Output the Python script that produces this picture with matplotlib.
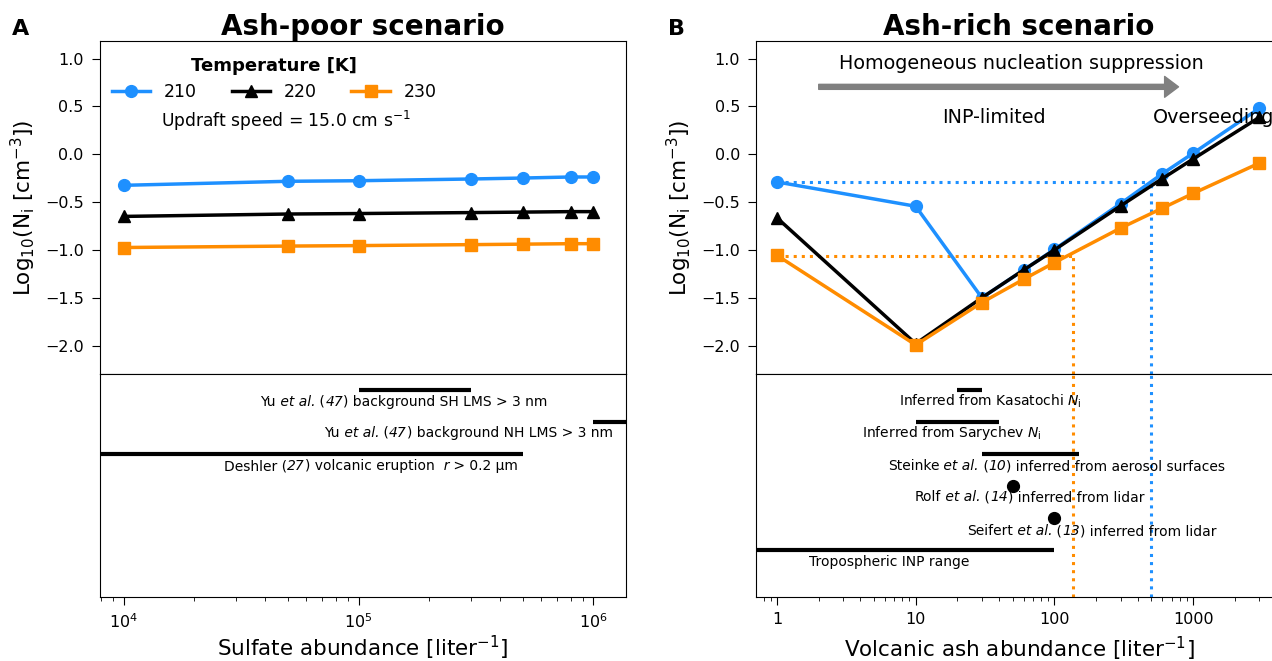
import numpy as np
import matplotlib
matplotlib.use("Agg")
import matplotlib.pyplot as plt
from matplotlib.ticker import FixedLocator, FixedFormatter, LogLocator, NullFormatter

# ---------------- data ----------------
temperatures = ["210", "220", "230"]
colors = ["#1E90FF", "black", "#FF8C00"]
markers = ["o", "^", "s"]

sulfate = [1e4, 5e4, 1e5, 3e5, 5e5, 8e5, 1e6]
poor_210 = [-0.325, -0.283, -0.277, -0.259, -0.249, -0.238, -0.238]
poor_220 = [-0.65, -0.625, -0.62, -0.61, -0.605, -0.60, -0.60]
poor_230 = [-0.975, -0.96, -0.955, -0.945, -0.94, -0.935, -0.935]

ash = [1, 10, 30, 60, 100, 300, 600, 1000, 3000]
rich_210 = [-0.29, -0.544, -1.50, -1.21, -0.995, -0.516, -0.204, 0.01, 0.48]
rich_220 = [-0.665, -1.98, -1.50, -1.21, -1.0, -0.54, -0.255, -0.05, 0.385]
rich_230 = [-1.057, -1.993, -1.55, -1.307, -1.133, -0.772, -0.564, -0.41, -0.093]

# threshold markers (ash-rich)
thr_210_y, thr_210_x = -0.29, 500
thr_230_y, thr_230_x = -1.06, 137

N, I = "normal", "italic"
# observational ranges, ash-poor
obsA_labels = [[("Yu", N), (" et al.", I), (" (", N), ("47", I), (") background SH LMS > 3 nm", N)],
               [("Yu", N), (" et al.", I), (" (", N), ("47", I), (") background NH LMS > 3 nm", N)],
               [("Deshler (", N), ("27", I), (") volcanic eruption", N), ("  r", I), (" > 0.2 μm", N)]]
obsA_lo = [1e5, 1e6, 1e3]
obsA_hi = [3e5, 2e6, 5e5]
obsA_level = [6.5, 5.5, 4.5]
obsA_text_x = [3.82e4, 7.13e4, 2.67e4]
obsA_text_y = [6.14, 5.17, 4.12]

# observational ranges, ash-rich
obsB_labels = [[("Inferred from Kasatochi $N_\\mathrm{i}$", N)],
               [("Inferred from Sarychev $N_\\mathrm{i}$", N)],
               [("Steinke", N), (" et al.", I), (" (", N), ("10", I), (") inferred from aerosol surfaces", N)],
               [("Rolf", N), (" et al.", I), (" (", N), ("14", I), (") inferred from lidar", N)],
               [("Seifert", N), (" et al.", I), (" (", N), ("13", I), (") inferred from lidar", N)],
               [("Tropospheric INP range", N)]]
obsB_lo = [20, 10, 30, 50, 100, 0.1]
obsB_hi = [30, 40, 150, 50, 100, 100]
obsB_level = [6.5, 5.5, 4.5, 3.5, 2.5, 1.5]
obsB_text_x = [7.6, 4.13, 6.3, 9.8, 23.4, 1.71]
obsB_text_y = [6.16, 5.17, 4.12, 3.14, 2.08, 1.12]

ashB_ticks = [1, 10, 100, 1000]
ashB_ticklabels = ["1", "10", "100", "1000"]

# ---------------- figure ----------------
plt.rcParams['font.family'] = ['DejaVu Sans']
plt.rcParams['xtick.major.size'] = 5.5
plt.rcParams['ytick.major.size'] = 5.5
plt.rcParams['xtick.minor.size'] = 3.0
plt.rcParams['xtick.major.pad'] = 5.0
plt.rcParams['ytick.major.pad'] = 6.0
W, H = 1272, 661
fig = plt.figure(figsize=(W / 100, H / 100), dpi=100)

def box(x0, y0, x1, y1):
    return [x0 / W, 1 - y1 / H, (x1 - x0) / W, (y1 - y0) / H]

axA = fig.add_axes(box(99.7, 41.3, 625.5, 374.3))
axA2 = fig.add_axes(box(99.7, 374.3, 625.5, 597.3), sharex=axA)
axB = fig.add_axes(box(756, 41.3, 1282, 374.3))
axB2 = fig.add_axes(box(756, 374.3, 1282, 597.3), sharex=axB)

LW = 2.5
MS = 8.5
TXT = 10
ylim = (-2.3, 1.18)
yticks = [-2.0, -1.5, -1.0, -0.5, 0.0, 0.5, 1.0]
ylabel = "Log$_{10}$(N$_\\mathrm{i}$ [cm$^{-3}$])"


def rich_text(ax, x, y, segments, fontsize):
    t = ax.text(x, y, segments[0][0], style=segments[0][1], fontsize=fontsize,
                ha='left', va='center')
    for s, st in segments[1:]:
        t = ax.annotate(s, xy=(1, 0), xycoords=t, style=st, fontsize=fontsize,
                        ha='left', va='bottom')


# ---- panel A ----
for ys, c, m, t in zip([poor_210, poor_220, poor_230], colors, markers, temperatures):
    axA.plot(sulfate, ys, color=c, marker=m, lw=LW, ms=MS, label=t)
axA.set_xscale('log')
axA.set_xlim(7.9e3, 1.37e6)
axA.set_ylim(*ylim)
axA.set_yticks(yticks)
axA.tick_params(axis='x', which='both', bottom=False, labelbottom=False)
axA.tick_params(axis='y', labelsize=11.5)
axA.set_ylabel(ylabel, fontsize=15.5, labelpad=5)
axA.set_title("Ash-poor scenario", fontsize=20, fontweight='bold', pad=4)
leg = axA.legend(loc='upper left', bbox_to_anchor=(0.0, 0.99), ncol=3, frameon=False,
                 title="Temperature [K]", fontsize=12.5, handlelength=2.2,
                 columnspacing=2.0, borderaxespad=0.3)
leg.get_title().set_fontweight('bold')
leg.get_title().set_fontsize(13)
axA.text(0.117, 0.762, "Updraft speed = 15.0 cm s$^{-1}$", transform=axA.transAxes,
         fontsize=12.3, ha='left', va='center')

for lo, hi, lev, lab, tx, ty in zip(obsA_lo, obsA_hi, obsA_level, obsA_labels, obsA_text_x, obsA_text_y):
    axA2.plot([lo, hi], [lev, lev], color='black', lw=3, solid_capstyle='butt')
    rich_text(axA2, tx, ty, lab, TXT)
axA2.set_ylim(0, 7)
axA2.set_yticks([])
axA2.xaxis.set_major_locator(LogLocator(base=10))
axA2.tick_params(axis='x', labelsize=11.5)
axA2.set_xlabel("Sulfate abundance [liter$^{-1}$]", fontsize=15.5, labelpad=2.5)

# ---- panel B ----
for ys, c, m, t in zip([rich_210, rich_220, rich_230], colors, markers, temperatures):
    axB.plot(ash, ys, color=c, marker=m, lw=LW, ms=MS, label=t, clip_on=False, zorder=3)
axB.set_xscale('log')
axB.set_xlim(0.706, 4375)
axB.set_ylim(*ylim)
axB.set_yticks(yticks)
axB.tick_params(axis='x', which='both', bottom=False, labelbottom=False)
axB.tick_params(axis='y', labelsize=11.5)
axB.set_ylabel(ylabel, fontsize=15.5, labelpad=5)
axB.set_title("Ash-rich scenario", fontsize=20, fontweight='bold', pad=4)

# threshold dotted lines
axB.plot([ash[0], thr_210_x], [thr_210_y, thr_210_y], color=colors[0], ls=':', lw=2.2, zorder=2)
axB.plot([thr_210_x, thr_210_x], [ylim[0], thr_210_y], color=colors[0], ls=':', lw=2.2, zorder=2)
axB.plot([ash[0], thr_230_x], [thr_230_y, thr_230_y], color=colors[2], ls=':', lw=2.2, zorder=2)
axB.plot([thr_230_x, thr_230_x], [ylim[0], thr_230_y], color=colors[2], ls=':', lw=2.2, zorder=2)
axB2.axvline(thr_210_x, color=colors[0], ls=':', lw=2.2)
axB2.axvline(thr_230_x, color=colors[2], ls=':', lw=2.2)

axB.annotate("", xy=(785, 0.704), xytext=(2.0, 0.704),
             arrowprops=dict(color='grey', width=3.6, headwidth=15, headlength=10, shrink=0))
axB.text(57.5, 0.95, "Homogeneous nucleation suppression", fontsize=13.8, ha='center', va='center')
axB.text(36.6, 0.384, "INP-limited", fontsize=13.8, ha='center', va='center')
axB.text(517, 0.384, "Overseeding", fontsize=13.8, ha='left', va='center')

for lo, hi, lev, lab, tx, ty in zip(obsB_lo, obsB_hi, obsB_level, obsB_labels, obsB_text_x, obsB_text_y):
    if lo == hi:
        axB2.plot([lo], [lev], 'o', color='black', ms=8.5)
    else:
        axB2.plot([lo, hi], [lev, lev], color='black', lw=3, solid_capstyle='butt')
    rich_text(axB2, tx, ty, lab, TXT)
axB2.set_ylim(0, 7)
axB2.set_yticks([])
axB2.xaxis.set_major_locator(FixedLocator(ashB_ticks))
axB2.xaxis.set_major_formatter(FixedFormatter(ashB_ticklabels))
axB2.xaxis.set_minor_formatter(NullFormatter())
axB2.tick_params(axis='x', labelsize=11.5)
axB2.set_xlabel("Volcanic ash abundance [liter$^{-1}$]", fontsize=15.5, labelpad=5.5)

fig.text(12 / W, 1 - 35 / H, "A", fontsize=16, fontweight='bold', va='baseline', ha='left')
fig.text(668 / W, 1 - 35 / H, "B", fontsize=16, fontweight='bold', va='baseline', ha='left')

fig.savefig("out.png", dpi=100)
